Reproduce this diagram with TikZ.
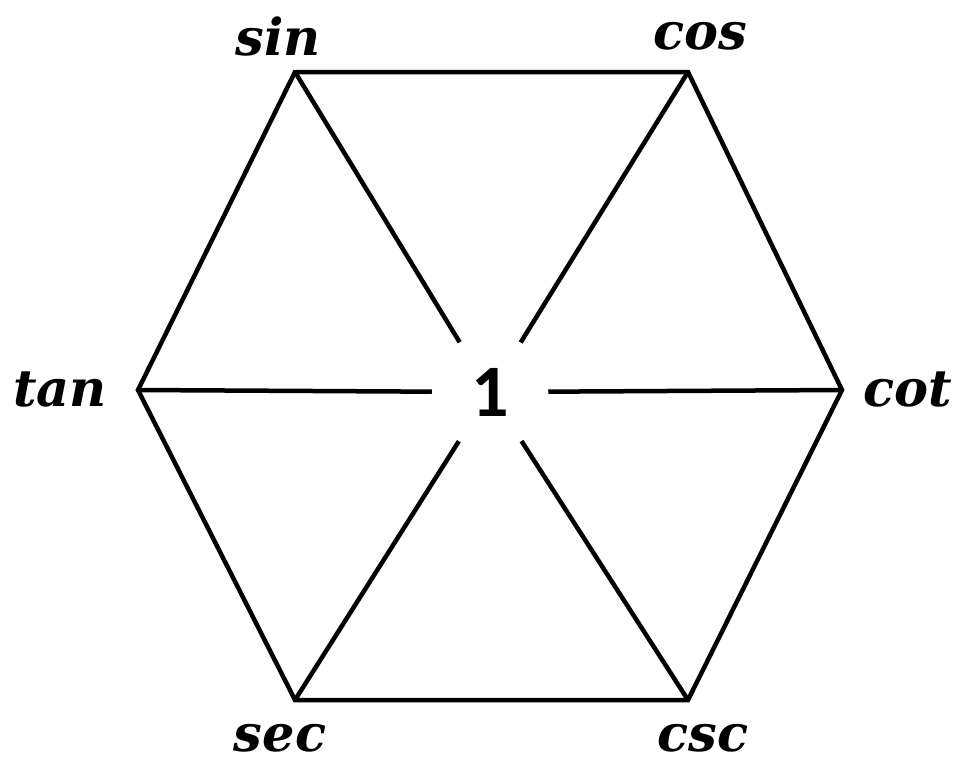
\documentclass[tikz,border=0pt]{standalone}
\usepackage{fontspec}
\setmainfont{DejaVu Serif}
\newfontfamily\onefont{Carlito}
\usepackage{tikz}

\begin{document}
\begin{tikzpicture}[x=1pt,y=-1pt,line width=4.5pt,line join=miter,
  fname/.style={inner sep=0pt,font=\fontsize{51}{51}\selectfont\bfseries\itshape}]
\useasboundingbox (0,0) rectangle (971,774);
%Vertices
\coordinate (sin) at (295,72);
\coordinate (cos) at (688,72);
\coordinate (cot) at (842,390);
\coordinate (csc) at (688,700);
\coordinate (sec) at (295,700);
\coordinate (tan) at (138,390);
\node [circle,inner sep=0pt,minimum size=112pt,font=\onefont\fontsize{74}{74}\selectfont\bfseries] (one) at (490,392) {1};
%Hexagon
\draw (sin) -- (cos) -- (cot) -- (csc) -- (sec) -- (tan) -- cycle;
%Spokes
\foreach \v in {sin,cos,cot,csc,sec,tan}
  \draw (\v) -- (one);
%Text
\node [fname] (sinlabel) at (278,36) {sin};
\node [fname] (coslabel) at (700,36) {cos};
\node [fname] (tanlabel) at (60,390) {tan};
\node [fname] (cotlabel) at (908,390) {cot};
\node [fname] (seclabel) at (280,738) {sec};
\node [fname] (csclabel) at (703,738) {csc};
\end{tikzpicture}
\end{document}
